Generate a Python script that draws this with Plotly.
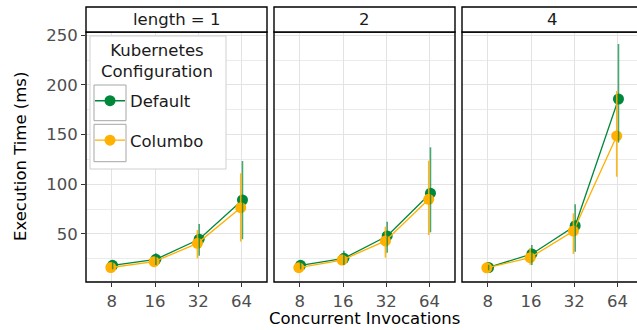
import math
import plotly.graph_objects as go

# ---------------- data ----------------
invocations = [8, 16, 32, 64]
lengths = ["length = 1", "2", "4"]

default_mean = [[18.5, 24.5, 44.7, 84.2],
                [18.5, 25.5, 48.0, 91.0],
                [16.3, 29.9, 58.3, 185.8]]
default_hi = [[21.5, 30.6, 60.0, 123.4],
              [22.0, 33.2, 62.4, 137.2],
              [19.0, 38.9, 79.9, 241.1]]
default_lo = [[14.5, 18.8, 28.0, 44.7],
              [14.5, 18.8, 31.2, 51.7],
              [13.5, 18.8, 32.2, 141.9]]

columbo_mean = [[16.3, 22.1, 40.6, 76.5],
                [16.1, 23.8, 43.0, 84.9],
                [16.0, 26.2, 53.0, 148.6]]
columbo_hi = [[20.5, 26.9, 54.0, 111.0],
              [19.5, 29.0, 57.3, 123.7],
              [18.5, 36.0, 70.8, 193.9]]
columbo_lo = [[13.0, 18.8, 25.5, 42.3],
              [13.0, 18.8, 26.2, 49.0],
              [13.5, 19.0, 29.9, 107.6]]

series = [
    ("Default", default_mean, default_hi, default_lo, "#00873c", "rgba(0,135,60,0.72)", 0.02),
    ("Columbo", columbo_mean, columbo_hi, columbo_lo, "#ffb000", "rgba(255,176,0,0.9)", -0.02),
]

# ---------------- layout geometry (pixels) ----------------
W, H = 637, 330
FONT = "DejaVu Sans"
panel_left = [86, 274, 462]
panel_w = 181
top_px, bot_px = 32, 282
strip_top = 7
x8_off = 25.7
octave_px = 43.3
y_lo, y_hi = 1.7, 253.2

def fx(p):
    return p / W

def fy(p):
    return 1 - p / H

fig = go.Figure()
L2 = math.log10(2)

# point/line traces
for i in range(3):
    ax = "" if i == 0 else str(i + 1)
    for name, mean, hi, lo, col, ecol, dodge in series:
        xs = [v * 2 ** dodge for v in invocations]
        fig.add_trace(go.Scatter(
            x=xs, y=mean[i], mode="lines+markers", name=name,
            legendgroup=name, showlegend=(i == 0),
            line=dict(color=col, width=1.3),
            marker=dict(color=col, size=11),
            xaxis="x" + ax, yaxis="y" + ax,
        ))
# error bar traces (drawn above points)
for i in range(3):
    ax = "" if i == 0 else str(i + 1)
    for name, mean, hi, lo, col, ecol, dodge in series:
        xs = [v * 2 ** dodge for v in invocations]
        fig.add_trace(go.Scatter(
            x=xs, y=mean[i], mode="markers", showlegend=False,
            marker=dict(color=col, size=1, opacity=0),
            error_y=dict(type="data", symmetric=False,
                         array=[h - m for h, m in zip(hi[i], mean[i])],
                         arrayminus=[m - l for m, l in zip(mean[i], lo[i])],
                         color=ecol, thickness=1.6, width=0),
            xaxis="x" + ax, yaxis="y" + ax, hoverinfo="skip",
        ))

shapes = []
annotations = []
layout = dict(
    width=W, height=H,
    margin=dict(l=0, r=0, t=0, b=0),
    paper_bgcolor="white", plot_bgcolor="white",
    font=dict(family=FONT, size=16, color="#1a1a1a"),
)

for i, left in enumerate(panel_left):
    right = left + panel_w
    right_vis = min(right, W)
    lo = L2 * (3 - x8_off / octave_px)
    hi = L2 * (3 + (right_vis - left - x8_off) / octave_px)
    ax = "" if i == 0 else str(i + 1)
    layout["xaxis" + ax] = dict(
        type="log", domain=[fx(left), fx(right_vis)], range=[lo, hi],
        tickvals=invocations, ticktext=[str(v) for v in invocations],
        showgrid=True, gridcolor="#e3e3e3", gridwidth=1,
        zeroline=False, showline=False, automargin=False,
        ticks="outside", ticklen=4, tickcolor="#333333", tickwidth=1,
        tickfont=dict(family=FONT, size=16.5, color="#4d4d4d"),
        anchor="y" + ax, fixedrange=True,
    )
    layout["yaxis" + ax] = dict(
        domain=[fy(bot_px), fy(top_px)], range=[y_lo, y_hi],
        tickvals=[50, 100, 150, 200, 250],
        showgrid=True, gridcolor="#e3e3e3", gridwidth=1,
        minor=dict(tickvals=[25, 75, 125, 175, 225], showgrid=True,
                   gridcolor="#ebebeb", gridwidth=0.8, ticks=""),
        zeroline=False, showline=False, automargin=False,
        ticks="outside" if i == 0 else "", ticklen=4, tickcolor="#333333", tickwidth=1,
        showticklabels=(i == 0),
        tickfont=dict(family=FONT, size=16.5, color="#4d4d4d"),
        anchor="x" + ax, fixedrange=True,
    )
    # panel border
    shapes.append(dict(type="rect", xref="paper", yref="paper",
                       x0=fx(left), x1=fx(right), y0=fy(bot_px), y1=fy(top_px),
                       line=dict(color="#000000", width=1.4), fillcolor="rgba(0,0,0,0)",
                       layer="above"))
    # strip
    shapes.append(dict(type="rect", xref="paper", yref="paper",
                       x0=fx(left), x1=fx(right), y0=fy(top_px), y1=fy(strip_top),
                       line=dict(color="#000000", width=1.4), fillcolor="white",
                       layer="above"))
    annotations.append(dict(text=lengths[i], xref="paper", yref="paper",
                            x=fx(left + panel_w / 2), y=fy((strip_top + top_px) / 2),
                            showarrow=False, xanchor="center", yanchor="middle",
                            font=dict(family=FONT, size=16.5, color="#1a1a1a")))

# legend background and key boxes
shapes.append(dict(type="rect", xref="paper", yref="paper",
                   x0=fx(90), x1=fx(226), y0=fy(169), y1=fy(36),
                   line=dict(color="#d0d0d0", width=1), fillcolor="white", layer="above"))
for y0, y1 in [(85, 120.7), (124.3, 161.7)]:
    shapes.append(dict(type="rect", xref="paper", yref="paper",
                       x0=fx(94), x1=fx(126), y0=fy(y1), y1=fy(y0),
                       line=dict(color="#a6a6a6", width=1), fillcolor="rgba(0,0,0,0)",
                       layer="above"))
# legend title
annotations.append(dict(text="Kubernetes<br>Configuration", xref="paper", yref="paper",
                        x=fx(157), y=fy(61), showarrow=False, align="center",
                        xanchor="center", yanchor="middle",
                        font=dict(family=FONT, size=16.5, color="#1a1a1a")))

# axis titles
annotations.append(dict(text="Execution Time (ms)", xref="paper", yref="paper",
                        x=fx(20), y=fy(157), showarrow=False, textangle=-90,
                        xanchor="center", yanchor="middle",
                        font=dict(family=FONT, size=16.5, color="#000000")))
annotations.append(dict(text="Concurrent Invocations", xref="paper", yref="paper",
                        x=fx(364.5), y=fy(318), showarrow=False,
                        xanchor="center", yanchor="middle",
                        font=dict(family=FONT, size=16.5, color="#000000")))

layout["shapes"] = shapes
layout["annotations"] = annotations
layout["legend"] = dict(
    x=fx(90), y=fy(83.5), xanchor="left", yanchor="top",
    bgcolor="rgba(0,0,0,0)", borderwidth=0,
    font=dict(family=FONT, size=16.5, color="#1a1a1a"),
    traceorder="grouped", tracegroupgap=15,
)

fig.update_layout(**layout)
fig.write_html("out.html", config={"displayModeBar": False},
               post_script="document.body.style.margin='0';")
